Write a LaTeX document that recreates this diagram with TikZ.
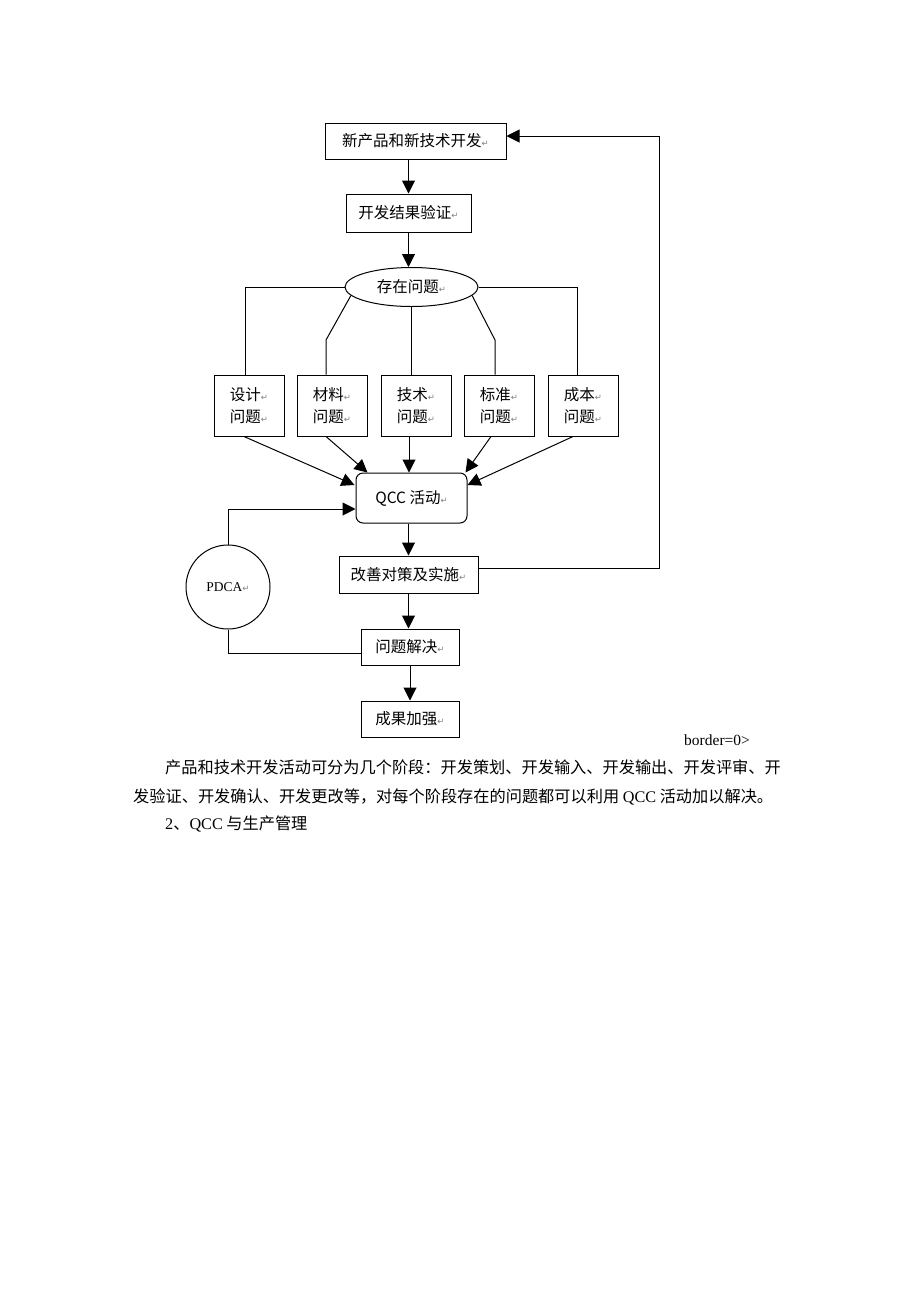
\documentclass[tikz,border=0pt]{standalone}
\usepackage{fontspec}
\setmainfont{Liberation Serif}
\newfontfamily\cjk{Noto Sans CJK SC}
\newfontfamily\djv{DejaVu Sans}
\usetikzlibrary{shapes.geometric,arrows.meta,calc}
\newcommand\retm{{\djv\fontsize{8.5}{8.5}\selectfont\textcolor{gray}{↵}}}
\begin{document}
\begin{tikzpicture}[x=1pt,y=-1pt,
  lw/.style={line width=1pt},
  box/.style={draw,lw,inner sep=0pt,rectangle,font=\cjk\fontsize{15.5}{22}\selectfont,align=left},
  arr/.style={lw,-{Triangle[length=13pt,width=13pt]}},
  ln/.style={lw},
  para/.style={anchor=west,inner sep=0pt,font=\cjk\fontsize{16.2}{20}\selectfont}]
\useasboundingbox[fill=white] (0,0) rectangle (920,1302);
% main chain
\node[box,minimum width=181pt,minimum height=36pt] (n1) at (415.5,141) {新产品和新技术开发\retm};
\node[box,minimum width=125pt,minimum height=38pt] (n2) at (408.5,213) {开发结果验证\retm};
\node[box,ellipse,minimum width=133pt,minimum height=39pt] (e) at (411.5,287) {存在问题\retm};
% problem boxes
\node[box,minimum width=70pt,minimum height=61pt] (b1) at (249,405.5) {设计\retm\\问题\retm};
\node[box,minimum width=70pt,minimum height=61pt] (b2) at (332,405.5) {材料\retm\\问题\retm};
\node[box,minimum width=70pt,minimum height=61pt] (b3) at (416,405.5) {技术\retm\\问题\retm};
\node[box,minimum width=70pt,minimum height=61pt] (b4) at (499,405.5) {标准\retm\\问题\retm};
\node[box,minimum width=70pt,minimum height=61pt] (b5) at (583,405.5) {成本\retm\\问题\retm};
\node[box,rounded corners=7pt,minimum width=111pt,minimum height=50pt] (qcc) at (411.5,498) {QCC 活动\retm};
\node[draw,lw,circle,minimum size=84pt,inner sep=0pt,font=\fontsize{13.5}{16}\selectfont] (pdca) at (228,587) {PDCA\retm};
\node[box,minimum width=139pt,minimum height=37pt] (gz) at (408.5,574.5) {改善对策及实施\retm};
\node[box,minimum width=98pt,minimum height=36pt] (jj) at (410,647) {问题解决\retm};
\node[box,minimum width=98pt,minimum height=36pt] (cq) at (410,719) {成果加强\retm};
% connectors
\draw[arr] (n1.south -| n2.north) -- (n2.north);
\draw[arr] (n2.south) -- (n2.south |- e.north);
\draw[ln] (e.west) -| ($(b1.north)+(-4,0)$);
\draw[ln] (e.east) -| ($(b5.north)+(-6,0)$);
\coordinate (kl) at (326,340);
\coordinate (kr) at (495,340);
\draw[ln] (e.188) -- (kl) -- (kl |- b2.north);
\draw[ln] (e.352) -- (kr) -- (kr |- b4.north);
\draw[ln] (e.south) -- (e.south |- b3.north);
\draw[arr] ($(b1.south)+(-5,0)$) -- ($(qcc.west)+(-1,-13)$);
\draw[arr] ($(b2.south)+(-6,0)$) -- ($(qcc.north)+(-44,0)$);
\draw[arr] ($(b3.south)+(-7,0)$) -- ($(qcc.north)+(-2.5,0)$);
\draw[arr] ($(b4.south)+(-8,0)$) -- ($(qcc.north east)+(-2,0)$);
\draw[arr] ($(b5.south)+(-10,0)$) -- ($(qcc.east)+(0,-13)$);
\draw[arr] (pdca.north) |- ($(qcc.west)+(0,11)$);
\draw[ln] (pdca.south) |- ($(jj.west)+(0,6)$);
\draw[arr] (qcc.south -| gz.north) -- (gz.north);
\draw[arr] ($(gz.east)+(0,-6)$) -- ++(181,0) |- ($(n1.east)+(0,-5)$);
\draw[arr] (gz.south) -- (gz.south |- jj.north);
\draw[arr] (jj.south) -- (jj.south |- cq.north);
% text below
\node[anchor=west,inner sep=0pt,font=\fontsize{15.5}{18}\selectfont] (bd) at (684,740) {border=0>};
\node[para] (p1) at (165,767) {产品和技术开发活动可分为几个阶段：开发策划、开发输入、开发输出、开发评审、开};
\node[para] (p2) at (133,797) {发验证、开发确认、开发更改等，对每个阶段存在的问题都可以利用 {\rmfamily QCC} 活动加以解决。};
\node[para] (p3) at (165,824) {{\rmfamily 2}、{\rmfamily QCC} 与生产管理};
\end{tikzpicture}
\end{document}
